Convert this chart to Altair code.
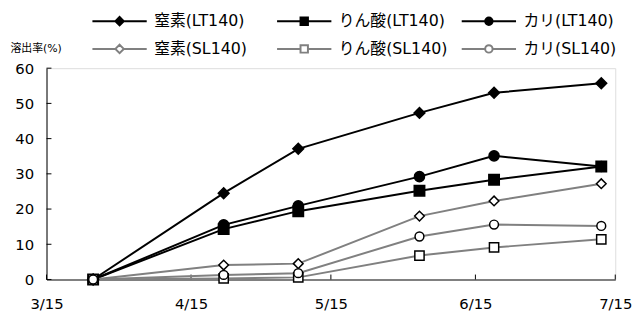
import altair as alt
import pandas as pd

# ---- data ----
dates = ["2011/03/25", "2011/04/22", "2011/05/08", "2011/06/03", "2011/06/19", "2011/07/12"]
series_names = ["窒素(LT140)", "りん酸(LT140)", "カリ(LT140)",
                "窒素(SL140)", "りん酸(SL140)", "カリ(SL140)"]
n_lt = [0, 24.5, 37.1, 47.3, 53.0, 55.7]
p_lt = [0, 14.3, 19.4, 25.2, 28.3, 32.1]
k_lt = [0, 15.5, 20.9, 29.2, 35.1, 32.1]
n_sl = [0, 4.1, 4.5, 18.0, 22.3, 27.2]
p_sl = [0, 0.3, 0.6, 6.8, 9.1, 11.4]
k_sl = [0, 1.3, 1.8, 12.2, 15.6, 15.2]
all_values = [n_lt, p_lt, k_lt, n_sl, p_sl, k_sl]

tick_months = [3, 4, 5, 6, 7]
tick_day = 15
tick_year = 2011
y_ticks = [0, 10, 20, 30, 40, 50, 60]

# ---- styles ----
FONT = "DejaVu Sans, Noto Sans CJK JP"
GRAY = "#808080"
line_colors = ["black", "black", "black", GRAY, GRAY, GRAY]
fill_colors = ["black", "black", "black", "white", "white", "white"]
shapes = ["diamond", "square", "circle", "diamond", "square", "circle"]
sizes = [120, 80, 90, 110, 80, 80]

leg_diamond = "M-5.5,0H-0.85M0.85,0H5.5M0,-0.85L0.85,0L0,0.85L-0.85,0Z"
leg_square = "M-5.5,0H-0.75M0.75,0H5.5M-0.75,-0.75H0.75V0.75H-0.75Z"
leg_circle = "M-5.5,0H-0.75M0.75,0H5.5M0.75,0A0.75,0.75 0 1,1 -0.75,0A0.75,0.75 0 1,1 0.75,0Z"
legend_shapes = [leg_diamond, leg_square, leg_circle, leg_diamond, leg_square, leg_circle]

rows = []
for name, vals in zip(series_names, all_values):
    for d, v in zip(dates, vals):
        rows.append({"date": d, "value": v, "series": name})
df = pd.DataFrame(rows)

xt_df = pd.DataFrame({"date": [f"{tick_year}/{m:02d}/{tick_day}" for m in tick_months]})
yt_df = pd.DataFrame({"value": y_ticks})

W, H = 576, 214

x_enc = alt.X(
    "date:T",
    scale=alt.Scale(domain=[alt.DateTime(year=tick_year, month=tick_months[0], date=tick_day),
                            alt.DateTime(year=tick_year, month=tick_months[-1], date=tick_day)]),
    axis=alt.Axis(
        values=[alt.DateTime(year=tick_year, month=m, date=tick_day) for m in tick_months],
        format="%-m/%d", title=None, grid=False, ticks=False, tickSize=0,
        domainColor=GRAY, domainWidth=2, labelPadding=17, labelFontSize=15,
        labelFont=FONT, labelColor="black", labelFlush=False, labelOverlap=False,
    ),
)
y_enc = alt.Y(
    "value:Q",
    scale=alt.Scale(domain=[0, 60]),
    axis=alt.Axis(
        values=y_ticks, title="溶出率(%)", grid=False, ticks=False, tickSize=0,
        domainColor="black", domainWidth=1, labelPadding=13, labelFontSize=15,
        labelFont=FONT, labelColor="black",
        titleAngle=0, titleAlign="center", titleBaseline="middle",
        titleX=-11, titleY=-20, titleFontSize=11, titleFontWeight="normal",
        titleFont=FONT, titleColor="black",
    ),
)

lines = alt.Chart(df).mark_line(strokeWidth=2).encode(
    x=x_enc, y=y_enc, detail="series:N",
    stroke=alt.Stroke("series:N", scale=alt.Scale(domain=series_names, range=line_colors), legend=None),
)

points = alt.Chart(df).mark_point(filled=True, stroke="black", strokeWidth=1.5, opacity=1).encode(
    x=x_enc, y=y_enc,
    shape=alt.Shape("series:N", scale=alt.Scale(domain=series_names, range=shapes), legend=None),
    fill=alt.Fill("series:N", scale=alt.Scale(domain=series_names, range=fill_colors), legend=None),
    size=alt.Size("series:N", scale=alt.Scale(domain=series_names, range=sizes), legend=None),
)

leg = alt.Legend(
    title=None, orient="none", legendX=66, legendY=-56, columns=3, direction="horizontal",
    gridAlign="all",
    symbolSize=100, symbolStrokeWidth=2, labelOffset=27, columnPadding=9, rowPadding=10.5,
    labelFont=FONT, labelFontSize=16, labelColor="black", padding=0,
)
legend_layer = alt.Chart(df).transform_filter("datum.value < -1").mark_point(
    filled=True, opacity=1, strokeWidth=2, size=100
).encode(
    x=x_enc, y=y_enc,
    shape=alt.Shape("series:N", scale=alt.Scale(domain=series_names, range=legend_shapes), legend=leg),
    fill=alt.Fill("series:N", scale=alt.Scale(domain=series_names, range=fill_colors), legend=leg),
    stroke=alt.Stroke("series:N", scale=alt.Scale(domain=series_names, range=line_colors), legend=leg),
)

xticks = alt.Chart(xt_df).mark_rule(color="black", strokeWidth=1).encode(
    x=x_enc, y=alt.value(H), y2=alt.value(H - 5)
)
yticks = alt.Chart(yt_df).mark_rule(color="black", strokeWidth=1).encode(
    y=y_enc, x=alt.value(0), x2=alt.value(5)
)

chart = alt.layer(xticks, yticks, lines, points, legend_layer).resolve_scale(
    shape="independent", fill="independent", stroke="independent", size="independent"
).properties(
    width=W, height=H,
    autosize=alt.AutoSizeParams(type="none"),
    padding={"left": 39, "top": 59, "right": 21, "bottom": 32},
).configure_view(strokeWidth=0).configure(font=FONT)

chart.save("out.html", embed_options={"renderer": "svg", "actions": False})
